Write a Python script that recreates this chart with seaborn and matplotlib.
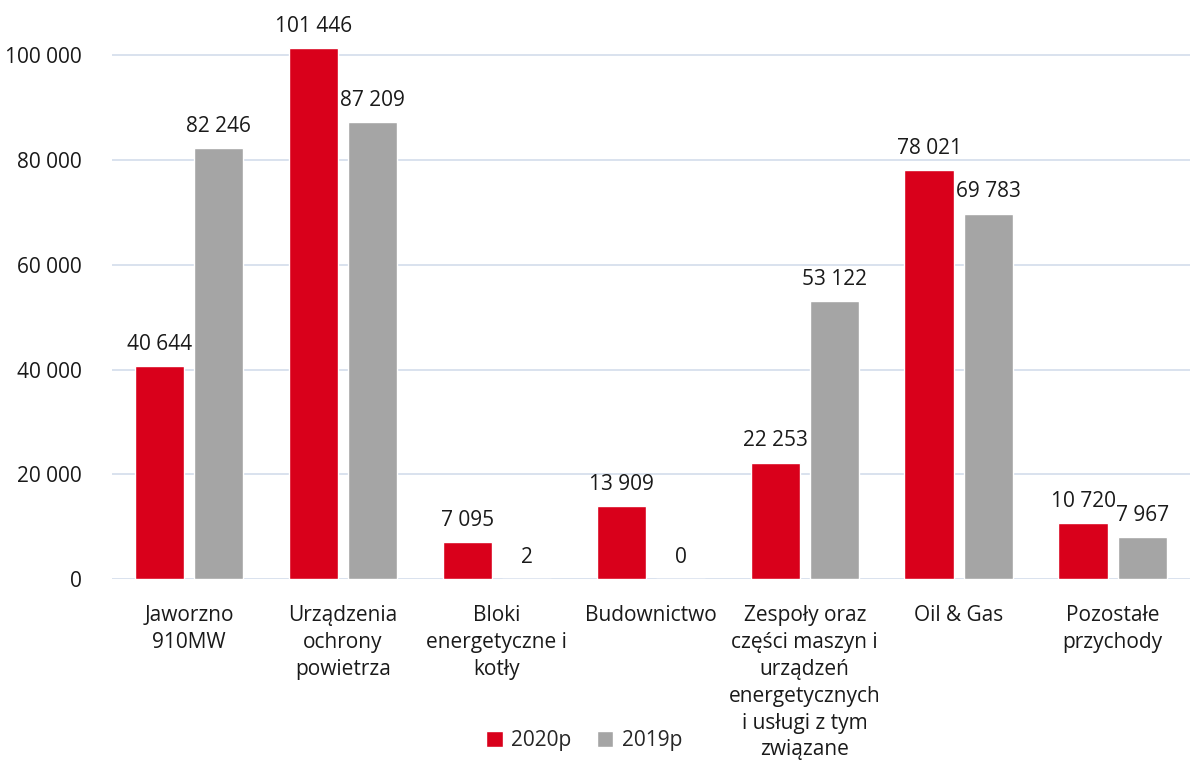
import matplotlib
matplotlib.use("Agg")
import matplotlib.pyplot as plt
import seaborn as sns
import pandas as pd

categories = ["Jaworzno\n910MW", "Urządzenia\nochrony\npowietrza", "Bloki\nenergetyczne i\nkotły",
              "Budownictwo", "Zespoły oraz\nczęści maszyn i\nurządzeń\nenergetycznych\ni usługi z tym\nzwiązane",
              "Oil & Gas", "Pozostałe\nprzychody"]
series_names = ["2020p", "2019p"]
values_2020 = [40644, 101446, 7095, 13909, 22253, 78021, 10720]
values_2019 = [82246, 87209, 2, 0, 53122, 69783, 7967]
yticks = [0, 20000, 40000, 60000, 80000, 100000]

df = pd.DataFrame({
    "cat": categories * 2,
    "series": [series_names[0]] * len(categories) + [series_names[1]] * len(categories),
    "value": values_2020 + values_2019,
})

sns.set_theme(style="white")
plt.rcParams["font.family"] = ["Open Sans", "DejaVu Sans"]

fig = plt.figure(figsize=(11.92, 7.67), dpi=100)
ax = fig.add_axes([0.094, 0.245, 0.904, 0.717])

palette = {"2020p": "#D9001B", "2019p": "#A5A5A5"}
sns.barplot(data=df, x="cat", y="value", hue="series", order=categories, hue_order=series_names,
            palette=palette, width=0.77, gap=0.17, saturation=1, ax=ax, legend=True, zorder=3)

fs = 15
ax.set_ylim(0, 105000)
ax.set_xlim(-0.5, len(categories) - 0.5)
ax.set_yticks(yticks)
ax.set_yticklabels([f"{v:,}".replace(",", " ") for v in yticks], fontsize=fs, color="#1a1a1a")
ax.set_xticks(range(len(categories)))
ax.set_xticklabels(categories, fontsize=fs, color="#1a1a1a", linespacing=1.36)
ax.tick_params(axis="x", length=0, pad=19)
ax.tick_params(axis="y", length=0, pad=22)
ax.set_xlabel("")
ax.set_ylabel("")
ax.grid(axis="y", color="#D3DDEB", linewidth=1.2, zorder=0)
for s in ax.spines.values():
    s.set_visible(False)

for cont in ax.containers:
    labels = [f"{int(round(b.get_height())):,}".replace(",", " ") for b in cont]
    ax.bar_label(cont, labels=labels, padding=8, fontsize=fs, color="#1a1a1a")

handles, labs = ax.get_legend_handles_labels()
ax.legend_.remove()
fig.legend(handles, labs, loc="center", bbox_to_anchor=(0.49, 0.034), ncol=2, frameon=False,
           fontsize=fs, handlelength=0.8, handleheight=0.8, columnspacing=1.2, handletextpad=0.4)

fig.savefig("out.png", dpi=100)
